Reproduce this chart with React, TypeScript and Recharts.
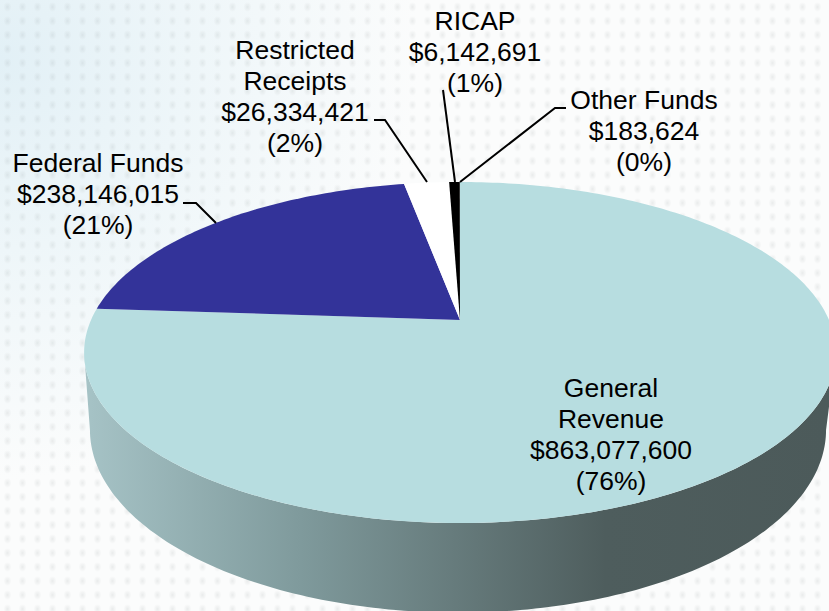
import { PieChart, Pie } from 'recharts';

const CATEGORIES = ['General Revenue', 'Federal Funds', 'Restricted Receipts', 'RICAP', 'Other Funds'];
const VALUES = [863077600, 238146015, 26334421, 6142691, 183624];
const SLICE_COLORS = ['#b7dde0', '#333399', '#ffffff', '#000000', '#000000'];
const NAME_LINES = [['General', 'Revenue'], ['Federal Funds'], ['Restricted', 'Receipts'], ['RICAP'], ['Other Funds']];

const data = CATEGORIES.map((name, i) => ({ name, value: VALUES[i], fill: SLICE_COLORS[i] }));
const TOTAL = VALUES.reduce((a, b) => a + b, 0);

// where each label sits: centre x, centre y of first line
const LABEL_POS = [
  { x: 611, y: 388 },
  { x: 98, y: 163 },
  { x: 295, y: 50 },
  { x: 475, y: 21 },
  { x: 644, y: 100 },
];
const LEADERS = [
  '',
  'M183 203 L196 203 L216 223',
  'M374 120 L385 120 L427 182',
  'M443 90 L455 182',
  'M566 108 L555 108 L460 182',
];

const LINE_HEIGHT = 31;
const PERSPECTIVE = 0.1906;
// top face, radii in px around the apex
const TOP = { cx: 460, cy: 320, a: 369, b: 164.3 };
// lower rim of the wall
const BOTTOM = { cx: 458, cy: 395, a: 361.3, b: 176.2 };
const WALL_FROM = 101;
const WALL_TO = 259;

// clockwise degrees from 12 o'clock -> point on the tilted disc
function project(disc: typeof TOP, deg: number) {
  const r = (deg * Math.PI) / 180;
  const u = Math.sin(r);
  const v = -Math.cos(r);
  const w = 1 - PERSPECTIVE * v;
  return [disc.cx + (disc.a * u) / w, disc.cy + (disc.b * v) / w];
}

function arc(disc: typeof TOP, from: number, to: number) {
  const steps = Math.max(2, Math.ceil(Math.abs(to - from)));
  const pts: string[] = [];
  for (let i = 0; i <= steps; i++) {
    const p = project(disc, from + ((to - from) * i) / steps);
    pts.push(`${p[0].toFixed(2)} ${p[1].toFixed(2)}`);
  }
  return pts.join(' L');
}

function TopSlice(props: any) {
  const from = 90 - props.startAngle;
  const to = 90 - props.endAngle;
  return <path d={`M${TOP.cx} ${TOP.cy} L${arc(TOP, from, to)} Z`} fill={props.fill} stroke="none" />;
}

function WallSlice(props: any) {
  const from = Math.max(90 - props.startAngle, WALL_FROM);
  const to = Math.min(90 - props.endAngle, WALL_TO);
  if (to <= from) return null;
  return <path d={`M${arc(TOP, from, to)} L${arc(BOTTOM, to, from)} Z`} fill="url(#wallFill)" stroke="none" />;
}

function SliceLabel(props: any) {
  const i = props.index;
  const pos = LABEL_POS[i];
  const pct = Math.round((VALUES[i] / TOTAL) * 100);
  const lines = [...NAME_LINES[i], `$${VALUES[i].toLocaleString('en-US')}`, `(${pct}%)`];
  return (
    <g>
      {LEADERS[i] && <path d={LEADERS[i]} fill="none" stroke="#000" strokeWidth={2} />}
      <text x={pos.x} y={pos.y} textAnchor="middle" fontFamily="'Liberation Sans', Arial, sans-serif" fontSize={26.5} fill="#000">
        {lines.map((l, k) => (
          <tspan key={k} x={pos.x} y={pos.y + k * LINE_HEIGHT} dy="0.35em">{l}</tspan>
        ))}
      </text>
    </g>
  );
}

export default function App() {
  return (
    <div
      style={{
        position: 'absolute',
        left: 0,
        top: 0,
        width: 829,
        height: 611,
        overflow: 'hidden',
        backgroundColor: '#fbfcfc',
        backgroundImage:
          'radial-gradient(ellipse 4px 5px, rgba(120,130,130,0.13), rgba(120,130,130,0) 100%),' +
          'radial-gradient(circle 420px at 0px 60px, #e2f0f6 0%, #eef6f9 45%, rgba(251,252,252,0) 100%)',
        backgroundSize: '15px 14px, 100% 100%',
      }}
    >
      <PieChart width={829} height={611} margin={{ top: 0, right: 0, bottom: 0, left: 0 }}>
        <defs>
          <linearGradient id="wallFill" gradientUnits="userSpaceOnUse" x1={85} y1={0} x2={829} y2={0}>
            <stop offset="0%" stopColor="#a6c3c6" />
            <stop offset="29%" stopColor="#7f9a9c" />
            <stop offset="70%" stopColor="#4e5d5d" />
            <stop offset="100%" stopColor="#4c5a5a" />
          </linearGradient>
        </defs>
        <Pie
          data={data}
          dataKey="value"
          nameKey="name"
          cx={460}
          cy={320}
          outerRadius={369}
          startAngle={90}
          endAngle={-270}
          stroke="none"
          shape={WallSlice}
          isAnimationActive={false}
        />
        <Pie
          data={data}
          dataKey="value"
          nameKey="name"
          cx={460}
          cy={320}
          outerRadius={369}
          startAngle={90}
          endAngle={-270}
          stroke="none"
          shape={TopSlice}
          label={SliceLabel}
          labelLine={false}
          isAnimationActive={false}
        />
      </PieChart>
    </div>
  );
}
